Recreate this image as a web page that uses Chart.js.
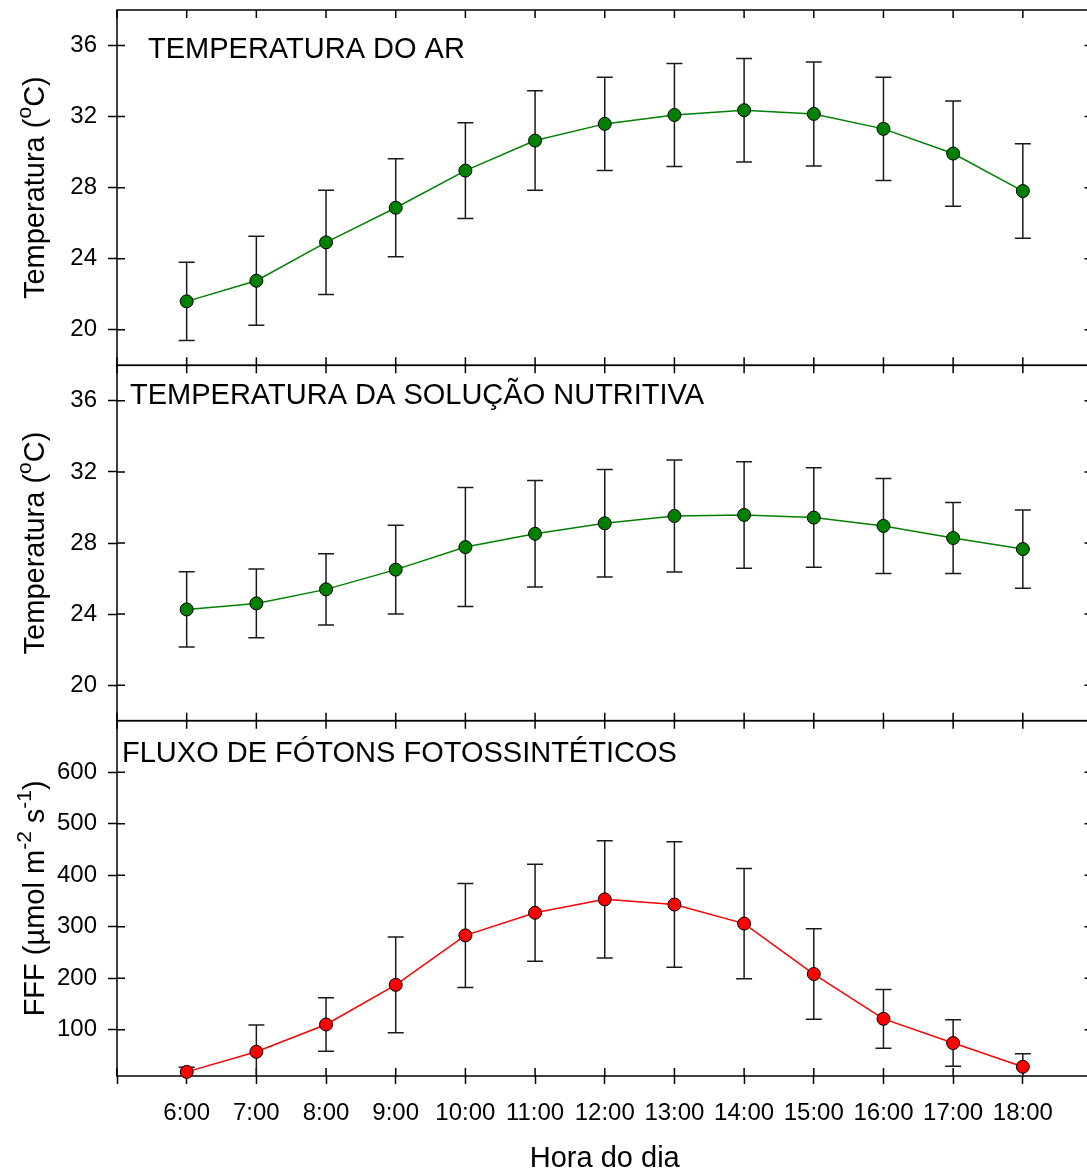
<!DOCTYPE html>
<html>
<head>
<meta charset="utf-8">
<script src="https://cdn.jsdelivr.net/npm/chart.js@4.4.1/dist/chart.umd.min.js"></script>
<style>
  html, body { margin: 0; padding: 0; background: #fff; overflow: hidden; }
  #wrap { position: relative; width: 1100px; height: 1176px; }
</style>
</head>
<body>
<div id="wrap"><canvas id="chart" width="1100" height="1176"></canvas></div>
<script>
// hours of the day (x) and the hour ticks drawn on the frame
const hours = [6, 7, 8, 9, 10, 11, 12, 13, 14, 15, 16, 17, 18];
const hourTicks = [5, 6, 7, 8, 9, 10, 11, 12, 13, 14, 15, 16, 17, 18, 19];

// air temperature (mean and sd)
const airTemp = [21.6, 22.76, 24.92, 26.87, 28.96, 30.65, 31.59, 32.09, 32.36, 32.15, 31.31, 29.92, 27.81];
const airTempSd = [2.2, 2.5, 2.93, 2.76, 2.7, 2.8, 2.63, 2.9, 2.91, 2.93, 2.9, 2.96, 2.66];

// nutrient solution temperature
const solTemp = [24.26, 24.6, 25.39, 26.5, 27.77, 28.52, 29.11, 29.52, 29.58, 29.43, 28.96, 28.28, 27.66];
const solTempSd = [2.12, 1.93, 2.0, 2.5, 3.35, 3.0, 3.03, 3.15, 3.0, 2.8, 2.67, 2.0, 2.2];

// photosynthetic photon flux
const fff = [18, 57, 110, 187, 283, 327, 353, 343, 306, 208, 121, 74, 28];
const fffSd = [9, 52, 52, 93, 101, 94, 114, 122, 107, 88, 57, 45, 25];

const tempTicks = [20, 24, 28, 32, 36];
const fffTicks = [100, 200, 300, 400, 500, 600];

const panelTitles = ['TEMPERATURA DO AR', 'TEMPERATURA DA SOLUÇÃO NUTRITIVA', 'FLUXO DE FÓTONS FOTOSSINTÉTICOS'];
const xTitle = 'Hora do dia';

const FONT = "'Liberation Sans', Arial, sans-serif";
Chart.defaults.font.family = FONT;
Chart.defaults.color = '#000';

const panels = [
  { axis: 'y1', values: airTemp, sd: airTempSd, ticks: tempTicks, title: panelTitles[0], color: '#008000',
    yTitle: [['Temperatura (', 0], ['o', 1], ['C)', 0]], tx: 31, ty: 48 },
  { axis: 'y2', values: solTemp, sd: solTempSd, ticks: tempTicks, title: panelTitles[1], color: '#008000',
    yTitle: [['Temperatura (', 0], ['o', 1], ['C)', 0]], tx: 13, ty: 39 },
  { axis: 'y3', values: fff, sd: fffSd, ticks: fffTicks, title: panelTitles[2], color: '#ff0000',
    yTitle: [['FFF (µmol m', 0], ['-2', 1], [' s', 0], ['-1', 1], [')', 0]], tx: 5, ty: 41 }
];

const framePlugin = {
  id: 'frames',
  beforeDatasetsDraw(chart) {
    const ctx = chart.ctx;
    const xs = chart.scales.x;
    ctx.save();
    ctx.strokeStyle = '#000';
    ctx.lineWidth = 1.5;
    panels.forEach(p => {
      const ys = chart.scales[p.axis];
      const l = xs.left, r = xs.right, t = ys.top, b = ys.bottom;
      ctx.strokeRect(l, t, r - l, b - t);
      ctx.beginPath();
      hourTicks.forEach(v => {
        const px = xs.getPixelForValue(v);
        ctx.moveTo(px, t); ctx.lineTo(px, t + 8);
        ctx.moveTo(px, b); ctx.lineTo(px, b - 8);
      });
      p.ticks.forEach(v => {
        const py = ys.getPixelForValue(v);
        ctx.moveTo(l, py); ctx.lineTo(l + 8, py);
        ctx.moveTo(r, py); ctx.lineTo(r - 8, py);
      });
      ctx.stroke();

      // error bars
      ctx.save();
      ctx.beginPath();
      ctx.rect(l, t, r - l, b - t);
      ctx.clip();
      ctx.strokeStyle = '#1a1a1a';
      ctx.beginPath();
      hours.forEach((h, i) => {
        const px = xs.getPixelForValue(h);
        const hi = ys.getPixelForValue(p.values[i] + p.sd[i]);
        const lo = ys.getPixelForValue(p.values[i] - p.sd[i]);
        ctx.moveTo(px, hi); ctx.lineTo(px, lo);
        ctx.moveTo(px - 8, hi); ctx.lineTo(px + 8, hi);
        ctx.moveTo(px - 8, lo); ctx.lineTo(px + 8, lo);
      });
      ctx.stroke();
      ctx.restore();
    });
    ctx.restore();
  },
  afterDraw(chart) {
    const ctx = chart.ctx;
    const xs = chart.scales.x;
    ctx.save();
    ctx.fillStyle = '#000';
    panels.forEach(p => {
      const ys = chart.scales[p.axis];
      ctx.font = '29px ' + FONT;
      ctx.textAlign = 'left';
      ctx.textBaseline = 'alphabetic';
      ctx.fillText(p.title, xs.left + p.tx, ys.top + p.ty);

      // rotated y title with superscripts
      const mid = (ys.top + ys.bottom) / 2;
      let total = 0;
      p.yTitle.forEach(([s, sup]) => {
        ctx.font = (sup ? '21px ' : '29px ') + FONT;
        total += ctx.measureText(s).width;
      });
      ctx.save();
      ctx.translate(44, mid);
      ctx.rotate(-Math.PI / 2);
      let cx = -total / 2;
      p.yTitle.forEach(([s, sup]) => {
        ctx.font = (sup ? '21px ' : '29px ') + FONT;
        ctx.fillText(s, cx, sup ? -13 : 0);
        cx += ctx.measureText(s).width;
      });
      ctx.restore();
    });
    ctx.restore();
  }
};

const noPadding = s => {
  s.paddingTop = 0; s.paddingBottom = 0; s.paddingLeft = 0; s.paddingRight = 0;
};

const yScale = (min, max, ticks) => ({
  type: 'linear',
  position: 'left',
  stack: 'panels',
  stackWeight: 1,
  min: min,
  max: max,
  afterBuildTicks: s => { s.ticks = ticks.map(v => ({ value: v })); },
  afterFit: s => { s.width = 117; noPadding(s); },
  border: { display: false },
  grid: { display: true, drawOnChartArea: false, drawTicks: true, tickLength: 9, tickWidth: 1.5, tickColor: '#000' },
  ticks: { font: { size: 24 }, color: '#000', padding: 11 }
});

new Chart(document.getElementById('chart'), {
  type: 'line',
  data: {
    datasets: panels.map(p => ({
      data: hours.map((h, i) => ({ x: h, y: p.values[i] })),
      yAxisID: p.axis,
      xAxisID: 'x',
      borderColor: p.color,
      borderWidth: 1.5,
      pointRadius: 6.5,
      pointBackgroundColor: p.color,
      pointBorderColor: '#000',
      pointBorderWidth: 1,
      tension: 0,
      clip: false
    }))
  },
  options: {
    responsive: false,
    animation: false,
    devicePixelRatio: 1,
    layout: { padding: { top: 10, right: 7, left: 0, bottom: 0 } },
    plugins: { legend: { display: false }, tooltip: { enabled: false } },
    scales: {
      x: {
        type: 'linear',
        position: 'bottom',
        min: 5,
        max: 19,
        afterBuildTicks: s => { s.ticks = hourTicks.map(v => ({ value: v })); },
        afterFit: s => { s.height = 100; noPadding(s); },
        border: { display: false },
        grid: { display: true, drawOnChartArea: false, drawTicks: true, tickLength: 8, tickWidth: 1.5, tickColor: '#000' },
        ticks: {
          font: { size: 24 }, color: '#000', padding: 15, maxRotation: 0, autoSkip: false,
          callback: v => hours.includes(v) ? v + ':00' : ''
        },
        title: { display: true, text: xTitle, font: { size: 29 }, color: '#000', padding: { top: 8, bottom: 0 } }
      },
      y3: yScale(10, 700, fffTicks),
      y2: yScale(18, 38, tempTicks),
      y1: yScale(18, 38, tempTicks)
    }
  },
  plugins: [framePlugin]
});
</script>
</body>
</html>
